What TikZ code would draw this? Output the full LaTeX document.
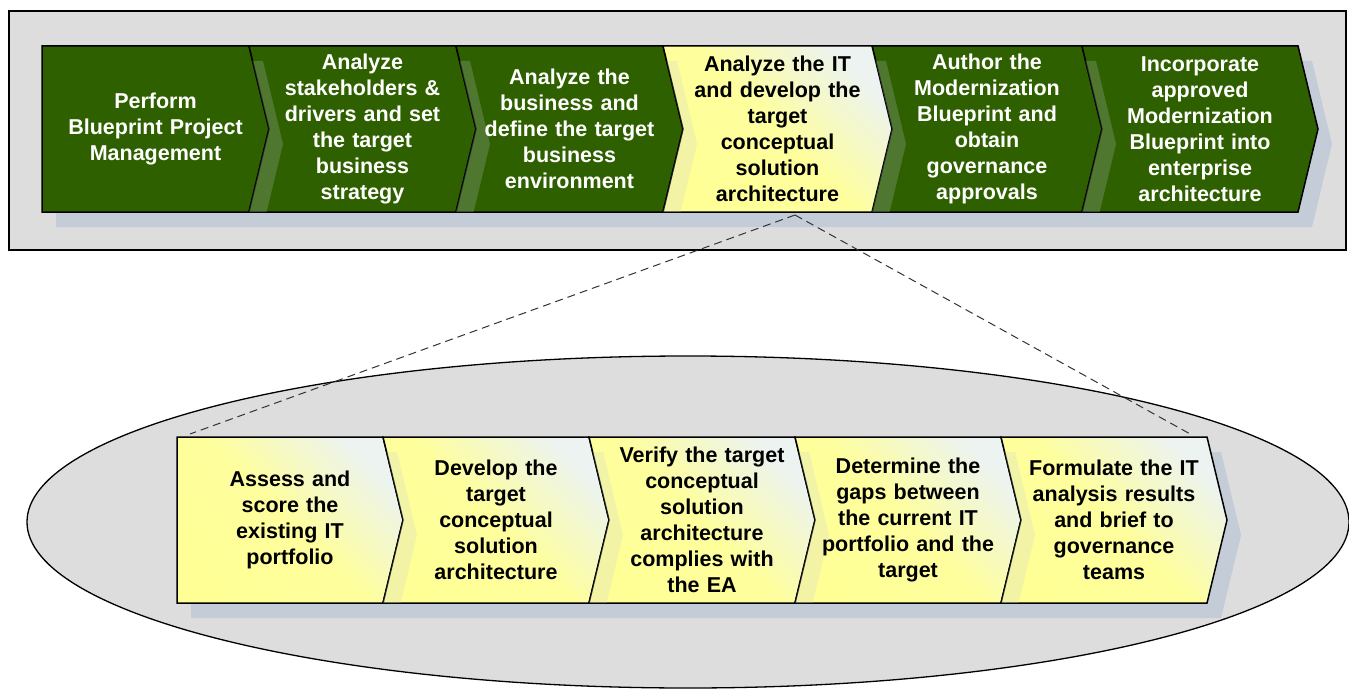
\documentclass[tikz,border=0pt]{standalone}
\usepackage{fontspec}
\setmainfont{Liberation Sans}
\usetikzlibrary{positioning,calc,backgrounds}

\definecolor{stagegreen}{RGB}{47,96,0}
\definecolor{paleyellow}{RGB}{255,255,150}
\definecolor{paleblue}{RGB}{236,243,241}
\definecolor{panelgray}{RGB}{221,221,221}
\definecolor{shadowblue}{RGB}{196,204,216}

% outline of a stage: #1 node, #2 notch depth (0 = flat left side)
\newcommand{\stagepath}[2]{($(#1.north west)+(-20,0)$) -- (#1.north east) -- ($(#1.east)+(20,0)$) -- (#1.south east) -- ($(#1.south west)+(-20,0)$) -- ($(#1.west)+(#2-20,0)$) -- cycle}

\tikzset{
  stage/.style={rectangle,inner sep=0pt,outer sep=0pt,minimum height=166,minimum width=187,text width=183,align=center,font=\bfseries\fontsize{21.5}{26}\selectfont},
  greenstage/.style={stage,text=white},
  yellowstage/.style={stage,text=black},
  greenbox/.style={draw=black,line width=1.5,fill=stagegreen},
  yellowbox/.style={draw=black,line width=1.5,top color=paleyellow,bottom color=paleblue,middle color=paleyellow!92!paleblue,shading angle=135},
  panel/.style={draw=black,line width=1.3,fill=panelgray},
  zoomline/.style={draw=black!80,line width=1,dash pattern=on 8pt off 5pt}
}

\begin{document}
\begin{tikzpicture}[x=1pt,y=-1pt]
\useasboundingbox (0,0) rectangle (1349,690);

% whole blueprint process
\node[greenstage] (u1) at (155.5,129) {Perform\\Blueprint Project\\Management};
\node[greenstage] (u2) [right=20pt of u1] {Analyze\\stakeholders \&\\drivers and set\\the target\\business\\strategy};
\node[greenstage] (u3) [right=20pt of u2] {Analyze the\\business and\\define the target\\business\\environment};
\node[yellowstage,minimum width=189] (u4) [right=20pt of u3] {Analyze the IT\\and develop the\\target\\conceptual\\solution\\architecture};
\node[greenstage,minimum width=190] (u5) [right=20pt of u4] {Author the\\Modernization\\Blueprint and\\obtain\\governance\\approvals};
\node[greenstage,minimum width=196] (u6) [right=20pt of u5] {Incorporate\\approved\\Modernization\\Blueprint into\\enterprise\\architecture};

% zoomed IT analysis
\node[yellowstage,minimum width=186] (l1) at (290,520) {Assess and\\score the\\existing IT\\portfolio};
\node[yellowstage,minimum width=186] (l2) [right=20pt of l1] {Develop the\\target\\conceptual\\solution\\architecture};
\node[yellowstage,minimum width=186] (l3) [right=20pt of l2] {Verify the target\\conceptual\\solution\\architecture\\complies with\\the EA};
\node[yellowstage,minimum width=186] (l4) [right=20pt of l3] {Determine the\\gaps between\\the current IT\\portfolio and the\\target};
\node[yellowstage,minimum width=186] (l5) [right=20pt of l4] {Formulate the IT\\analysis results\\and brief to\\governance\\teams};

\coordinate (zoom) at ($(u4.south)+(17.5,3)$);
\draw[zoomline] (zoom) -- ($(l1.north west)+(-7,-3)$);
\draw[zoomline] (zoom) -- ($(l5.north east)+(-15,-2)$);

\begin{scope}[on background layer]
\draw[panel] (9,11) rectangle (1346,250);
\draw[panel] (688,522) ellipse [x radius=661,y radius=166];
\foreach \n/\d in {u1/0,u2/20,u3/20,u4/20,u5/20,u6/20,l1/0,l2/20,l3/20,l4/20,l5/20}
  \fill[shadowblue,transform canvas={shift={(14,15)}}] \stagepath{\n}{\d};
\foreach \n/\d in {u1/0,u2/20,u3/20,u5/20,u6/20}
  \draw[greenbox] \stagepath{\n}{\d};
\foreach \n/\d in {u4/20,l1/0,l2/20,l3/20,l4/20,l5/20}
  \draw[yellowbox] \stagepath{\n}{\d};
% shadow showing through the next stage
\foreach \a/\d/\b in {u1/0/u2,u2/20/u3,u3/20/u4,u4/20/u5,u5/20/u6,l1/0/l2,l2/20/l3,l3/20/l4,l4/20/l5}{
  \begin{scope}
    \clip \stagepath{\b}{20};
    \fill[shadowblue,fill opacity=0.22,transform canvas={shift={(14,15)}}] \stagepath{\a}{\d};
  \end{scope}
}
\end{scope}
\end{tikzpicture}
\end{document}
